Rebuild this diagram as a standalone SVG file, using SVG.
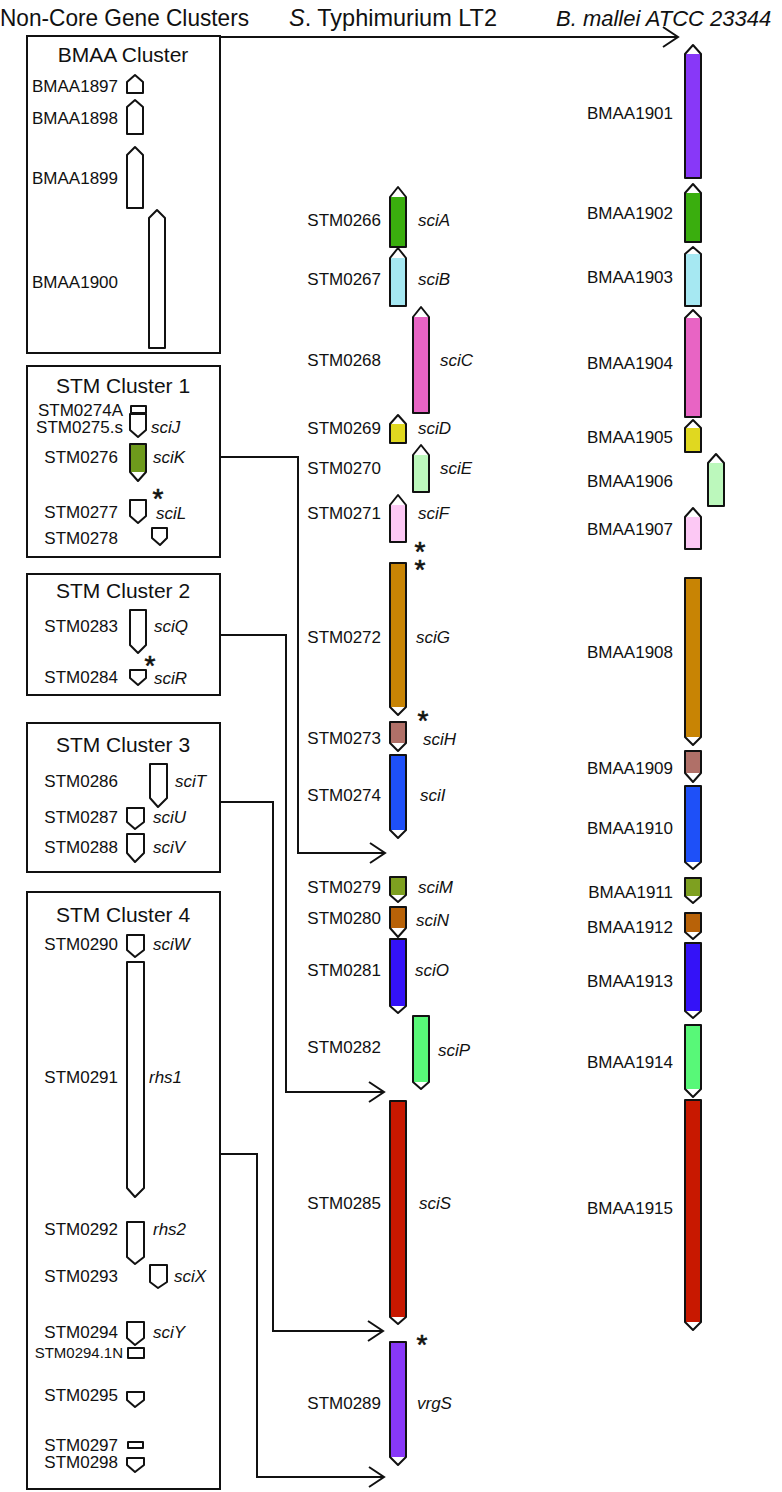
<svg xmlns="http://www.w3.org/2000/svg" width="782" height="1492" viewBox="0 0 782 1492">
<style>
text{font-family:"Liberation Sans",Arial,sans-serif;fill:#111}
.hdr{font-size:24px}
.ttl{font-size:21px;text-anchor:middle}
.l{font-size:17px;text-anchor:end}
.s{font-size:15px;text-anchor:end}
.i{font-size:17px;font-style:italic}
.ast{font-size:28px;text-anchor:middle;stroke:#111;stroke-width:0.6}
.box{fill:#fff;stroke:#111;stroke-width:2}
.ol{fill:none;stroke:#111;stroke-width:2;stroke-linejoin:round}
.w{fill:#fff;stroke:#111;stroke-width:2;stroke-linejoin:round}
.conn{fill:none;stroke:#111;stroke-width:2}
</style>
<defs>
<marker id="arr" markerUnits="userSpaceOnUse" markerWidth="20" markerHeight="24" refX="16" refY="11" orient="auto">
<path d="M1,1 L16,11 L1,21" fill="none" stroke="#111" stroke-width="2"/>
</marker>
</defs>

<g id="headers">
<text class="hdr" x="0" y="26" textLength="249" lengthAdjust="spacingAndGlyphs">Non-Core Gene Clusters</text>
<text class="hdr" x="289" y="26" textLength="208" lengthAdjust="spacingAndGlyphs"><tspan font-style="italic">S</tspan>. Typhimurium LT2</text>
<text x="556" y="26" font-size="22" font-style="italic">B. mallei ATCC 23344</text>
</g>

<g id="connectors">
<path class="conn" d="M220,37 H678" marker-end="url(#arr)"/>
<path class="conn" d="M220,457 H298 V853 H385" marker-end="url(#arr)"/>
<path class="conn" d="M220,635 H286 V1092 H384" marker-end="url(#arr)"/>
<path class="conn" d="M220,802 H273 V1331 H383" marker-end="url(#arr)"/>
<path class="conn" d="M220,1154 H257 V1477 H384" marker-end="url(#arr)"/>
</g>

<!-- Left clusters -->
<g id="bmaa-cluster">
<rect class="box" x="27" y="36" width="193" height="317"/>
<text class="ttl" x="123" y="62">BMAA Cluster</text>
<text class="l" x="118" y="92">BMAA1897</text>
<path class="w" d="M127,93 V82 L135,75 L143,82 V93 Z"/>
<text class="l" x="118" y="124">BMAA1898</text>
<path class="w" d="M127,134 V107 L135,100 L143,107 V134 Z"/>
<text class="l" x="118" y="184">BMAA1899</text>
<path class="w" d="M127,208 V155 L135,147 L143,155 V208 Z"/>
<text class="l" x="118" y="288">BMAA1900</text>
<path class="w" d="M149,348 V218 L157,210 L165,218 V348 Z"/>
</g>

<g id="stm-cluster-1">
<rect class="box" x="27" y="366" width="193" height="191"/>
<text class="ttl" x="123" y="393">STM Cluster 1</text>
<text class="l" x="123" y="416">STM0274A</text>
<rect class="w" x="131" y="406" width="15" height="7"/>
<text class="l" x="123" y="433">STM0275.s</text>
<path class="w" d="M130,414 V430 L138,437 L146,430 V414 Z"/>
<text class="i" x="151" y="433">sciJ</text>
<text class="l" x="118" y="463">STM0276</text>
<path d="M130,444 H146 V472 H130 Z" fill="#6e9a1c"/>
<path class="ol" d="M130,444 V472 L138,481 L146,472 V444 Z"/>
<text class="i" x="153" y="463">sciK</text>
<text class="ast" x="158" y="508">*</text>
<text class="l" x="118" y="518">STM0277</text>
<path class="w" d="M130,500 V516 L138,523 L146,516 V500 Z"/>
<text class="i" x="156" y="519">sciL</text>
<text class="l" x="118" y="544">STM0278</text>
<path class="w" d="M152,528 V538 L160,545 L167,538 V528 Z"/>
</g>

<g id="stm-cluster-2">
<rect class="box" x="27" y="574" width="193" height="121"/>
<text class="ttl" x="123" y="598">STM Cluster 2</text>
<text class="l" x="118" y="632">STM0283</text>
<path class="w" d="M130,610 V645 L138,653 L146,645 V610 Z"/>
<text class="i" x="154" y="632">sciQ</text>
<text class="ast" x="150" y="675">*</text>
<text class="l" x="118" y="683">STM0284</text>
<path class="w" d="M130,670 V678 L138,685 L146,678 V670 Z"/>
<text class="i" x="154" y="684">sciR</text>
</g>

<g id="stm-cluster-3">
<rect class="box" x="27" y="723" width="193" height="149"/>
<text class="ttl" x="123" y="752">STM Cluster 3</text>
<text class="l" x="118" y="787">STM0286</text>
<path class="w" d="M150,764 V798 L158,807 L167,798 V764 Z"/>
<text class="i" x="175" y="787">sciT</text>
<text class="l" x="118" y="823">STM0287</text>
<path class="w" d="M127,808 V822 L135,829 L144,822 V808 Z"/>
<text class="i" x="153" y="823">sciU</text>
<text class="l" x="118" y="853">STM0288</text>
<path class="w" d="M127,834 V853 L135,862 L144,853 V834 Z"/>
<text class="i" x="153" y="853">sciV</text>
</g>

<g id="stm-cluster-4">
<rect class="box" x="27" y="892" width="193" height="597"/>
<text class="ttl" x="123" y="922">STM Cluster 4</text>
<text class="l" x="118" y="950">STM0290</text>
<path class="w" d="M127,935 V950 L135,957 L144,950 V935 Z"/>
<text class="i" x="153" y="950">sciW</text>
<text class="l" x="118" y="1083">STM0291</text>
<path class="w" d="M127,962 V1188 L135,1197 L144,1188 V962 Z"/>
<text class="i" x="149" y="1083">rhs1</text>
<text class="l" x="118" y="1235">STM0292</text>
<path class="w" d="M127,1222 V1257 L135,1264 L144,1257 V1222 Z"/>
<text class="i" x="153" y="1235">rhs2</text>
<text class="l" x="118" y="1282">STM0293</text>
<path class="w" d="M150,1265 V1282 L158,1288 L167,1282 V1265 Z"/>
<text class="i" x="174" y="1282">sciX</text>
<text class="l" x="118" y="1338">STM0294</text>
<path class="w" d="M127,1322 V1338 L135,1345 L144,1338 V1322 Z"/>
<text class="i" x="153" y="1338">sciY</text>
<text class="s" x="123" y="1358">STM0294.1N</text>
<rect class="w" x="128" y="1348" width="16" height="10"/>
<text class="l" x="118" y="1401">STM0295</text>
<path class="w" d="M127,1392 V1400 L135,1407 L144,1400 V1392 Z"/>
<text class="l" x="118" y="1451">STM0297</text>
<rect class="w" x="128" y="1442" width="15" height="6"/>
<text class="l" x="118" y="1468">STM0298</text>
<path class="w" d="M127,1458 V1465 L135,1472 L144,1465 V1458 Z"/>
</g>

<!-- Middle column: S. Typhimurium LT2 -->
<g id="STM0266">
<text class="l" x="381" y="226">STM0266</text>
<rect x="390" y="197" width="16" height="50" fill="#3aae0e"/>
<path class="ol" d="M390,247 V197 L398,187 L406,197 V247 Z"/>
<text class="i" x="418" y="226">sciA</text>
</g>
<g id="STM0267">
<text class="l" x="381" y="285">STM0267</text>
<rect x="390" y="258" width="16" height="48" fill="#a6e8f2"/>
<path class="ol" d="M390,306 V258 L398,248 L406,258 V306 Z"/>
<text class="i" x="418" y="285">sciB</text>
</g>
<g id="STM0268">
<text class="l" x="381" y="366">STM0268</text>
<rect x="413" y="317" width="16" height="96" fill="#e864c4"/>
<path class="ol" d="M413,413 V317 L421,307 L429,317 V413 Z"/>
<text class="i" x="440" y="366">sciC</text>
</g>
<g id="STM0269">
<text class="l" x="381" y="434">STM0269</text>
<rect x="390" y="424" width="16" height="19" fill="#e0d820"/>
<path class="ol" d="M390,443 V424 L398,415 L406,424 V443 Z"/>
<text class="i" x="418" y="434">sciD</text>
</g>
<g id="STM0270">
<text class="l" x="381" y="474">STM0270</text>
<rect x="413" y="455" width="16" height="37" fill="#bcf8bc"/>
<path class="ol" d="M413,492 V455 L421,445 L429,455 V492 Z"/>
<text class="i" x="440" y="474">sciE</text>
</g>
<g id="STM0271">
<text class="l" x="381" y="519">STM0271</text>
<rect x="390" y="505" width="16" height="37" fill="#fcc8f4"/>
<path class="ol" d="M390,542 V505 L398,495 L406,505 V542 Z"/>
<text class="i" x="418" y="519">sciF</text>
</g>
<text class="ast"><tspan x="420" y="561">*</tspan><tspan x="420" y="579">*</tspan></text>
<g id="STM0272">
<text class="l" x="381" y="643">STM0272</text>
<rect x="390" y="563" width="16" height="144" fill="#c88404"/>
<path class="ol" d="M390,563 V707 L398,715 L406,707 V563 Z"/>
<text class="i" x="416" y="643">sciG</text>
</g>
<text class="ast" x="423" y="730">*</text>
<g id="STM0273">
<text class="l" x="381" y="744">STM0273</text>
<rect x="390" y="722" width="16" height="21" fill="#b07068"/>
<path class="ol" d="M390,722 V743 L398,751 L406,743 V722 Z"/>
<text class="i" x="423" y="745">sciH</text>
</g>
<g id="STM0274">
<text class="l" x="381" y="801">STM0274</text>
<rect x="390" y="755" width="16" height="75" fill="#1e50f8"/>
<path class="ol" d="M390,755 V830 L398,838 L406,830 V755 Z"/>
<text class="i" x="420" y="801">sciI</text>
</g>
<g id="STM0279">
<text class="l" x="381" y="893">STM0279</text>
<rect x="390" y="877" width="16" height="18" fill="#7ea020"/>
<path class="ol" d="M390,877 V895 L398,902 L406,895 V877 Z"/>
<text class="i" x="418" y="893">sciM</text>
</g>
<g id="STM0280">
<text class="l" x="381" y="924">STM0280</text>
<rect x="390" y="907" width="16" height="21" fill="#b86208"/>
<path class="ol" d="M390,907 V928 L398,937 L406,928 V907 Z"/>
<text class="i" x="416" y="926">sciN</text>
</g>
<g id="STM0281">
<text class="l" x="381" y="976">STM0281</text>
<rect x="390" y="939" width="16" height="67" fill="#3412f8"/>
<path class="ol" d="M390,939 V1006 L398,1013 L406,1006 V939 Z"/>
<text class="i" x="415" y="976">sciO</text>
</g>
<g id="STM0282">
<text class="l" x="381" y="1053">STM0282</text>
<rect x="413" y="1016" width="16" height="66" fill="#58f878"/>
<path class="ol" d="M413,1016 V1082 L421,1089 L429,1082 V1016 Z"/>
<text class="i" x="438" y="1056">sciP</text>
</g>
<g id="STM0285">
<text class="l" x="381" y="1209">STM0285</text>
<rect x="390" y="1101" width="16" height="216" fill="#c81800"/>
<path class="ol" d="M390,1101 V1317 L398,1324 L406,1317 V1101 Z"/>
<text class="i" x="419" y="1209">sciS</text>
</g>
<text class="ast" x="422" y="1354">*</text>
<g id="STM0289">
<text class="l" x="381" y="1409">STM0289</text>
<rect x="390" y="1342" width="16" height="115" fill="#8838f8"/>
<path class="ol" d="M390,1342 V1457 L398,1465 L406,1457 V1342 Z"/>
<text class="i" x="417" y="1409">vrgS</text>
</g>

<!-- Right column: B. mallei -->
<g id="BMAA1901">
<text class="l" x="673" y="119">BMAA1901</text>
<rect x="685" y="54" width="16" height="124" fill="#8838f8"/>
<path class="ol" d="M685,178 V54 L693,45 L701,54 V178 Z"/>
</g>
<g id="BMAA1902">
<text class="l" x="673" y="219">BMAA1902</text>
<rect x="685" y="193" width="16" height="49" fill="#3aae0e"/>
<path class="ol" d="M685,242 V193 L693,184 L701,193 V242 Z"/>
</g>
<g id="BMAA1903">
<text class="l" x="673" y="283">BMAA1903</text>
<rect x="685" y="254" width="16" height="52" fill="#a6e8f2"/>
<path class="ol" d="M685,306 V254 L693,247 L701,254 V306 Z"/>
</g>
<g id="BMAA1904">
<text class="l" x="673" y="369">BMAA1904</text>
<rect x="685" y="318" width="16" height="99" fill="#e864c4"/>
<path class="ol" d="M685,417 V318 L693,310 L701,318 V417 Z"/>
</g>
<g id="BMAA1905">
<text class="l" x="673" y="443">BMAA1905</text>
<rect x="685" y="428" width="16" height="24" fill="#e0d820"/>
<path class="ol" d="M685,452 V428 L693,420 L701,428 V452 Z"/>
</g>
<g id="BMAA1906">
<text class="l" x="673" y="487">BMAA1906</text>
<rect x="708" y="463" width="16" height="43" fill="#bcf8bc"/>
<path class="ol" d="M708,506 V463 L716,454 L724,463 V506 Z"/>
</g>
<g id="BMAA1907">
<text class="l" x="673" y="535">BMAA1907</text>
<rect x="685" y="517" width="16" height="32" fill="#fcc8f4"/>
<path class="ol" d="M685,549 V517 L693,508 L701,517 V549 Z"/>
</g>
<g id="BMAA1908">
<text class="l" x="673" y="658">BMAA1908</text>
<rect x="685" y="578" width="16" height="159" fill="#c88404"/>
<path class="ol" d="M685,578 V737 L693,745 L701,737 V578 Z"/>
</g>
<g id="BMAA1909">
<text class="l" x="673" y="774">BMAA1909</text>
<rect x="685" y="751" width="16" height="22" fill="#b07068"/>
<path class="ol" d="M685,751 V773 L693,782 L701,773 V751 Z"/>
</g>
<g id="BMAA1910">
<text class="l" x="673" y="834">BMAA1910</text>
<rect x="685" y="786" width="16" height="76" fill="#1e50f8"/>
<path class="ol" d="M685,786 V862 L693,869 L701,862 V786 Z"/>
</g>
<g id="BMAA1911">
<text class="l" x="673" y="898">BMAA1911</text>
<rect x="685" y="878" width="16" height="18" fill="#7ea020"/>
<path class="ol" d="M685,878 V896 L693,903 L701,896 V878 Z"/>
</g>
<g id="BMAA1912">
<text class="l" x="673" y="933">BMAA1912</text>
<rect x="685" y="913" width="16" height="19" fill="#b86208"/>
<path class="ol" d="M685,913 V932 L693,939 L701,932 V913 Z"/>
</g>
<g id="BMAA1913">
<text class="l" x="673" y="987">BMAA1913</text>
<rect x="685" y="943" width="16" height="68" fill="#3412f8"/>
<path class="ol" d="M685,943 V1011 L693,1018 L701,1011 V943 Z"/>
</g>
<g id="BMAA1914">
<text class="l" x="673" y="1068">BMAA1914</text>
<rect x="685" y="1025" width="16" height="64" fill="#58f878"/>
<path class="ol" d="M685,1025 V1089 L693,1097 L701,1089 V1025 Z"/>
</g>
<g id="BMAA1915">
<text class="l" x="673" y="1214">BMAA1915</text>
<rect x="685" y="1100" width="16" height="222" fill="#c81800"/>
<path class="ol" d="M685,1100 V1322 L693,1330 L701,1322 V1100 Z"/>
</g>
</svg>
